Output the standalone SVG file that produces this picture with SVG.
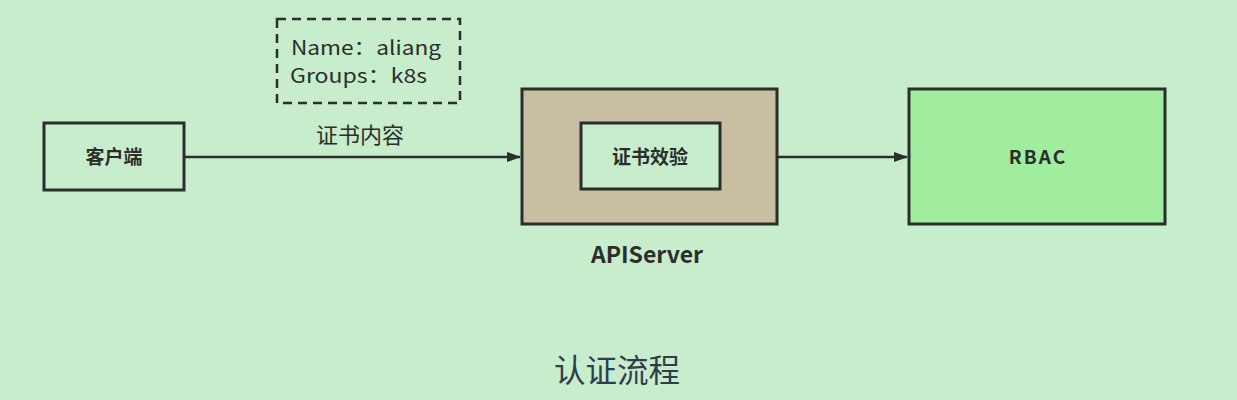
<svg xmlns="http://www.w3.org/2000/svg" width="1237" height="400" viewBox="0 0 1237 400">
<defs>
<marker id="arr" markerWidth="14" markerHeight="10" refX="13" refY="5" orient="auto" markerUnits="userSpaceOnUse">
<path d="M0,0 L14,5 L0,10 Z" fill="#2b2f2b"/>
</marker>
<style>
.box{stroke:#2b2f2b;stroke-width:3}
.t{font-family:"Noto Sans CJK SC","Noto Sans",sans-serif;fill:#2b2f2b}
.b{font-weight:bold;font-size:19px}
.edge{stroke:#2b2f2b;stroke-width:2.5;fill:none}
</style>
</defs>
<rect width="1237" height="400" fill="#c7edcc"/>
<g id="client">
<rect class="box" x="44" y="123" width="140" height="67" fill="#c7edcc"/>
<text class="t b" x="114" y="164" text-anchor="middle">客户端</text>
</g>
<g id="identity">
<rect x="277" y="19" width="183" height="84" fill="none" stroke="#2b2f2b" stroke-width="2.5" stroke-dasharray="9,6"/>
<text class="t" x="291" y="55" font-size="19.5" textLength="150" lengthAdjust="spacingAndGlyphs">Name：aliang</text>
<text class="t" x="290" y="83" font-size="19.5" textLength="137" lengthAdjust="spacingAndGlyphs">Groups：k8s</text>
</g>
<g id="apiserver">
<rect class="box" x="522" y="89" width="255" height="135" fill="#c8bea2"/>
<rect class="box" x="581" y="123" width="139" height="66" fill="#c7edcc"/>
<text class="t b" x="650" y="164" text-anchor="middle">证书效验</text>
<text class="t" x="647" y="263" text-anchor="middle" font-size="23" font-weight="bold">APIServer</text>
</g>
<g id="rbac">
<rect class="box" x="909" y="89" width="256" height="135" fill="#a0eda0"/>
<text class="t" x="1038" y="164" text-anchor="middle" font-size="19" font-weight="bold" letter-spacing="2">RBAC</text>
</g>
<g id="connectors">
<line class="edge" x1="184" y1="157" x2="520" y2="157" marker-end="url(#arr)"/>
<text class="t" x="360" y="143" text-anchor="middle" font-size="22">证书内容</text>
<line class="edge" x1="777" y1="157" x2="907" y2="157" marker-end="url(#arr)"/>
</g>
<text class="t" x="617" y="382" text-anchor="middle" font-size="31.5" style="fill:#2c3e50">认证流程</text>
</svg>
